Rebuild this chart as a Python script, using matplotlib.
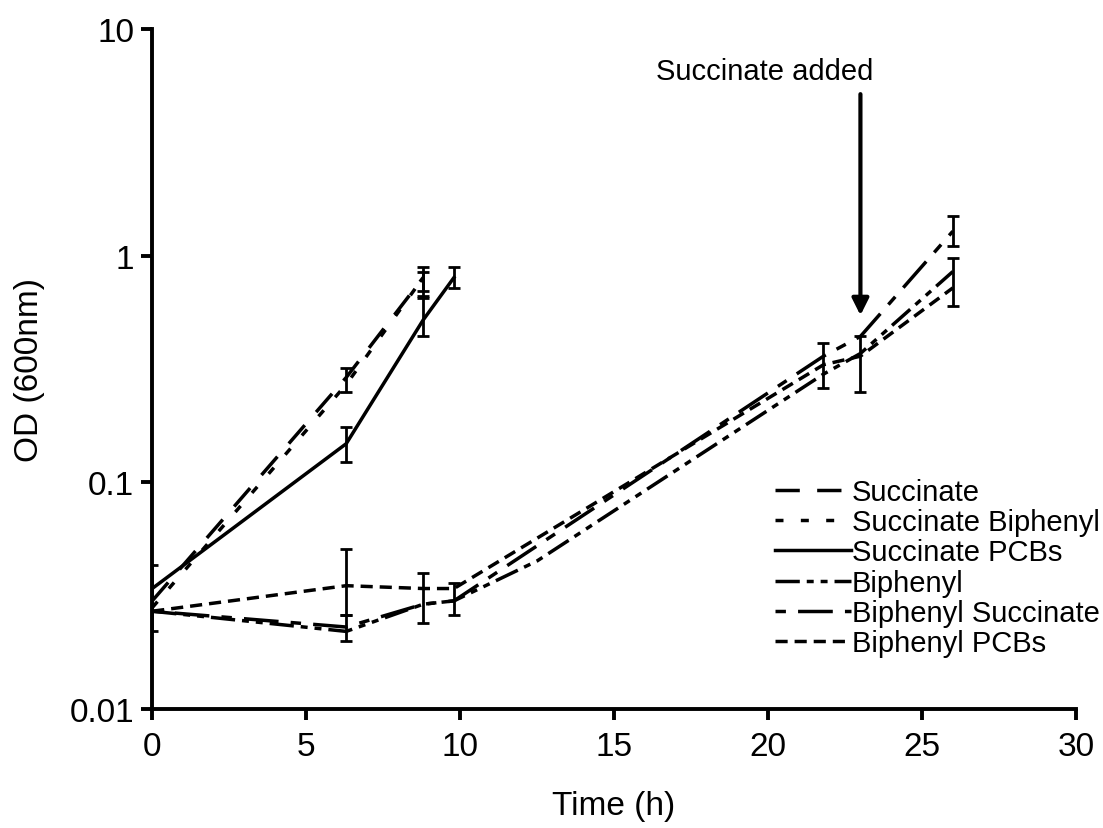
import numpy as np
import matplotlib
matplotlib.use("Agg")
import matplotlib.pyplot as plt

plt.rcParams['font.family'] = ['Liberation Sans', 'DejaVu Sans']

# time points (h)
t_succ = [0, 6.3, 8.8]
t_succ_pcb = [0, 6.3, 8.8, 9.8]
t_biph = [0, 6.3, 8.8, 9.8, 12.5, 21.8, 23, 26]
t_biph_long = [0, 6.3, 8.8, 9.8, 21.8, 23, 26]

# OD values
od_succinate = [0.030, 0.29, 0.80]
od_succ_biphenyl = [0.028, 0.27, 0.80]
od_succ_pcbs = [0.034, 0.148, 0.52, 0.80]
od_biphenyl = [0.027, 0.022, 0.029, 0.030, 0.045, 0.30, 0.37, 0.85]
od_biph_succinate = [0.027, 0.023, 0.029, 0.030, 0.36, 0.44, 1.28]
od_biph_pcbs = [0.027, 0.035, 0.034, 0.034, 0.33, 0.36, 0.72]

# error bars (lower, upper) as absolute OD, None = no bar
err_succinate = [None, (0.25, 0.32), (0.70, 0.89)]
err_succ_biphenyl = [(0.022, 0.043), None, (0.65, 0.85)]
err_succ_pcbs = [None, (0.123, 0.176), (0.44, 0.66), (0.72, 0.89)]
err_biphenyl = [None, (0.020, 0.026), None, None, None, None, None, None]
err_biph_succinate = [None, None, None, None, (0.26, 0.41), (0.25, 0.44), (1.10, 1.50)]
err_biph_pcbs = [None, (0.026, 0.051), (0.024, 0.040), (0.026, 0.036), None, None, (0.60, 0.98)]

series = [
    ("Succinate", t_succ, od_succinate, err_succinate, (0, (7, 5))),
    ("Succinate Biphenyl", t_succ, od_succ_biphenyl, err_succ_biphenyl, (0, (2.3, 5))),
    ("Succinate PCBs", t_succ_pcb, od_succ_pcbs, err_succ_pcbs, '-'),
    ("Biphenyl", t_biph, od_biphenyl, err_biphenyl, (0, (7, 2, 2, 2, 2, 2))),
    ("Biphenyl Succinate", t_biph_long, od_biph_succinate, err_biph_succinate, (0, (3, 3.5, 10, 3.5))),
    ("Biphenyl PCBs", t_biph_long, od_biph_pcbs, err_biph_pcbs, (0, (3.5, 2))),
]

fig = plt.figure(figsize=(11.03, 8.29), dpi=100)
ax = fig.add_axes([0.138, 0.1435, 0.8375, 0.8205])

for name, t, od, err, ls in series:
    ax.plot(t, od, color='black', lw=2.5, linestyle=ls, label=name)
    # only the points that have error bars
    xs = [x for x, e in zip(t, err) if e is not None]
    ys = [y for y, e in zip(od, err) if e is not None]
    lo = [y - e[0] for y, e in zip(od, err) if e is not None]
    hi = [e[1] - y for y, e in zip(od, err) if e is not None]
    if xs:
        ax.errorbar(xs, ys, yerr=[lo, hi], fmt='none', ecolor='black',
                    elinewidth=2, capsize=4, capthick=2)

# succinate addition marker
ax.annotate('', xy=(23, 0.53), xytext=(23, 5.3),
            arrowprops=dict(arrowstyle='-|>', lw=3, color='black', mutation_scale=25))
ax.text(19.9, 6.5, 'Succinate added', ha='center', va='center', fontsize=21)

ax.set_yscale('log')
ax.set_ylim(0.01, 10)
ax.set_xlim(0, 30)
ax.set_yticks([0.01, 0.1, 1, 10])
ax.set_yticklabels(['0.01', '0.1', '1', '10'])
ax.yaxis.set_minor_locator(matplotlib.ticker.NullLocator())
ax.set_xticks([0, 5, 10, 15, 20, 25, 30])

for side in ['top', 'right']:
    ax.spines[side].set_visible(False)
for side in ['left', 'bottom']:
    ax.spines[side].set_linewidth(2.8)
ax.tick_params(axis='both', direction='out', length=8, width=2.8, labelsize=24, pad=8)
ax.tick_params(axis='y', pad=5)

ax.set_xlabel('Time (h)', fontsize=24, labelpad=20)
ax.set_ylabel('OD (600nm)', fontsize=24, labelpad=18)

ax.legend(loc='upper left', bbox_to_anchor=(0.674, 0.34), frameon=False, fontsize=21,
          handlelength=2.6, handletextpad=0.05, labelspacing=0.08, borderpad=0, borderaxespad=0)

plt.savefig('out.png', dpi=100)
